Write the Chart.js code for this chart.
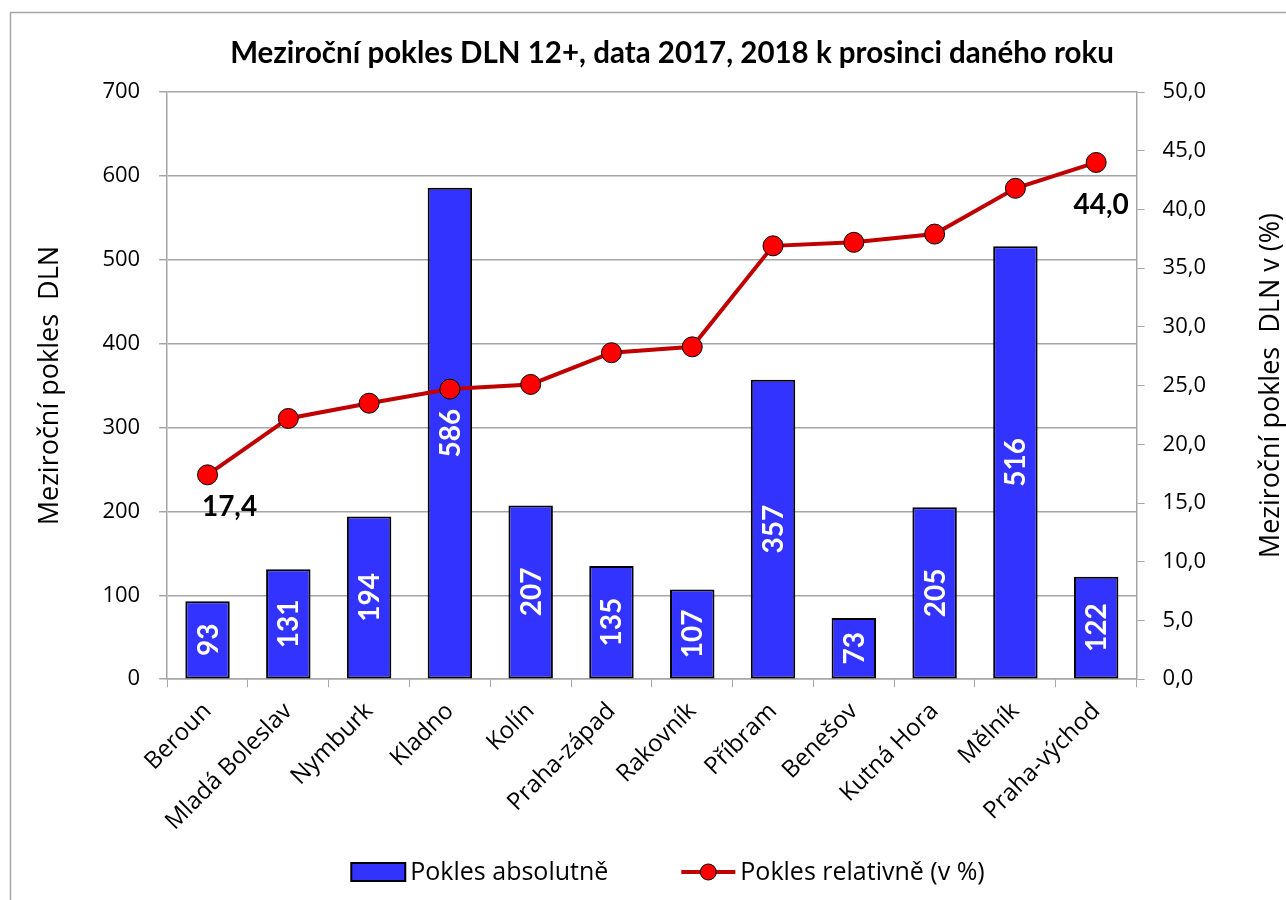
<!DOCTYPE html>
<html>
<head>
<meta charset="utf-8">
<script src="https://cdn.jsdelivr.net/npm/chart.js@4.4.1/dist/chart.umd.min.js"></script>
<style>
  html, body { margin: 0; background: #fff; }
  #wrap { width: 1286px; height: 900px; position: relative; }
</style>
</head>
<body>
<div id="wrap"><canvas id="chart" width="1286" height="900"></canvas></div>
<script>
// data
const okresy = ['Beroun', 'Mladá Boleslav', 'Nymburk', 'Kladno', 'Kolín', 'Praha-západ',
  'Rakovník', 'Příbram', 'Benešov', 'Kutná Hora', 'Mělník', 'Praha-východ'];
const poklesAbsolutne = [93, 131, 194, 586, 207, 135, 107, 357, 73, 205, 516, 122];
const poklesRelativne = [17.4, 22.2, 23.5, 24.7, 25.1, 27.8, 28.3, 36.9, 37.2, 37.9, 41.8, 44.0];
const labeledRelIdx = [0, 11];   // only first and last point carry a label

const leftTicks = { min: 0, max: 700, step: 100 };
const rightTicks = { min: 0, max: 50, step: 5 };

const chartTitle = 'Meziroční pokles DLN 12+, data 2017, 2018 k prosinci daného roku';
const rightTitle = 'Meziroční pokles  DLN v (%)';

const yTickFont = { family: 'Open Sans', size: 22 };
const xTickFont = { family: 'Open Sans', size: 24 };
const fmt1 = v => v.toFixed(1).replace('.', ',');

// title, frame, value labels, right axis title, legend
const extras = {
  id: 'extras',
  beforeDraw(chart) {
    const ctx = chart.ctx;
    ctx.save();
    ctx.fillStyle = '#fff';
    ctx.fillRect(0, 0, chart.width, chart.height);
    ctx.strokeStyle = '#a6a6a6';
    ctx.lineWidth = 1.5;
    ctx.strokeRect(10.5, 12.5, chart.width + 20, chart.height + 20);
    ctx.restore();
  },
  afterDatasetsDraw(chart) {
    const ctx = chart.ctx;
    ctx.save();
    // bar values, rotated, white
    chart.getDatasetMeta(0).data.forEach((bar, i) => {
      const cy = (bar.y + bar.base) / 2;
      ctx.save();
      ctx.translate(bar.x, cy);
      ctx.rotate(-Math.PI / 2);
      ctx.font = 'bold 28px Lato';
      ctx.fillStyle = '#fff';
      ctx.textAlign = 'center';
      ctx.textBaseline = 'middle';
      ctx.fillText(String(poklesAbsolutne[i]), 0, 1);
      ctx.restore();
    });
    // line labels
    const pts = chart.getDatasetMeta(1).data;
    ctx.font = 'bold 28px Lato';
    ctx.fillStyle = '#000';
    ctx.textAlign = 'center';
    ctx.textBaseline = 'middle';
    labeledRelIdx.forEach(i => {
      const p = pts[i];
      const dx = i === 0 ? 22 : 5;
      const dy = i === 0 ? 32 : 43;
      ctx.fillText(fmt1(poklesRelativne[i]), p.x + dx, p.y + dy);
    });
    ctx.restore();
  },
  afterDraw(chart) {
    const ctx = chart.ctx;
    const a = chart.chartArea;
    ctx.save();
    ctx.fillStyle = '#000';

    // title
    ctx.font = 'bold 29.5px Lato';
    ctx.textAlign = 'center';
    ctx.textBaseline = 'middle';
    ctx.fillText(chartTitle, 672, 53);

    // right axis title (reads bottom to top like the left one)
    ctx.save();
    ctx.translate(1271, (a.top + a.bottom) / 2);
    ctx.rotate(-Math.PI / 2);
    ctx.font = '27px "Open Sans"';
    ctx.fillText(rightTitle, 0, 0);
    ctx.restore();

    // legend
    const [barDs, lineDs] = chart.data.datasets;
    ctx.font = '25px "Open Sans"';
    ctx.textAlign = 'left';
    const symW = 54, gapTxt = 5, gapItem = 73;
    const w1 = ctx.measureText(barDs.label).width;
    const w2 = ctx.measureText(lineDs.label).width;
    const total = symW + gapTxt + w1 + gapItem + symW + gapTxt + w2;
    let x = 668 - total / 2;
    const y = 872;
    ctx.fillStyle = barDs.backgroundColor;
    ctx.fillRect(x, y - 9, symW, 18);
    ctx.strokeStyle = barDs.borderColor;
    ctx.lineWidth = 2;
    ctx.strokeRect(x, y - 9, symW, 18);
    x += symW + gapTxt;
    ctx.fillStyle = '#000';
    ctx.fillText(barDs.label, x, y + 1);
    x += w1 + gapItem;
    ctx.strokeStyle = lineDs.borderColor;
    ctx.lineWidth = 4;
    ctx.beginPath(); ctx.moveTo(x, y); ctx.lineTo(x + symW, y); ctx.stroke();
    ctx.fillStyle = lineDs.pointBackgroundColor;
    ctx.strokeStyle = lineDs.pointBorderColor;
    ctx.lineWidth = 1;
    ctx.beginPath(); ctx.arc(x + symW / 2, y, 8, 0, Math.PI * 2); ctx.fill(); ctx.stroke();
    x += symW + gapTxt;
    ctx.fillStyle = '#000';
    ctx.fillText(lineDs.label, x, y + 1);
    ctx.restore();
  }
};

Chart.defaults.font.family = 'Open Sans';
Chart.defaults.color = '#000';

new Chart(document.getElementById('chart'), {
  data: {
    labels: okresy,
    datasets: [{
      type: 'bar',
      label: 'Pokles absolutně',
      data: poklesAbsolutne,
      yAxisID: 'y',
      backgroundColor: '#3333FF',
      borderColor: '#000',
      borderWidth: 2,
      borderSkipped: false,
      categoryPercentage: 1,
      barPercentage: 0.55,
      order: 2
    }, {
      type: 'line',
      label: 'Pokles relativně (v %)',
      data: poklesRelativne,
      yAxisID: 'y2',
      borderColor: '#C00000',
      borderWidth: 4,
      pointRadius: 10,
      pointBackgroundColor: '#FF0000',
      pointBorderColor: '#000',
      pointBorderWidth: 1,
      tension: 0,
      order: 1
    }]
  },
  options: {
    responsive: false,
    animation: false,
    layout: { padding: { left: 34, right: 62, top: 92, bottom: 54 } },
    plugins: {
      tooltip: { enabled: false },
      title: { display: false },
      legend: { display: false }
    },
    scales: {
      x: {
        offset: true,
        grid: { offset: true, drawOnChartArea: false, color: '#a6a6a6', tickLength: 8 },
        border: { color: '#a6a6a6', width: 1.5 },
        ticks: { font: xTickFont, maxRotation: 45, minRotation: 45, padding: 10 }
      },
      y: {
        position: 'left',
        min: leftTicks.min,
        max: leftTicks.max,
        ticks: { stepSize: leftTicks.step, font: yTickFont, padding: 19 },
        grid: { color: '#a6a6a6', lineWidth: 1.5, tickLength: 8 },
        border: { color: '#a6a6a6', width: 1.5 },
        title: {
          display: true,
          text: 'Meziroční pokles  DLN',
          font: { family: 'Open Sans', size: 27 },
          padding: { top: 0, bottom: 17 }
        }
      },
      y2: {
        position: 'right',
        min: rightTicks.min,
        max: rightTicks.max,
        ticks: { stepSize: rightTicks.step, font: yTickFont, padding: 18, callback: v => fmt1(v) },
        grid: { drawOnChartArea: false, color: '#a6a6a6', tickLength: 8 },
        border: { color: '#a6a6a6', width: 1.5 }
      }
    }
  },
  plugins: [extras]
});
</script>
</body>
</html>
